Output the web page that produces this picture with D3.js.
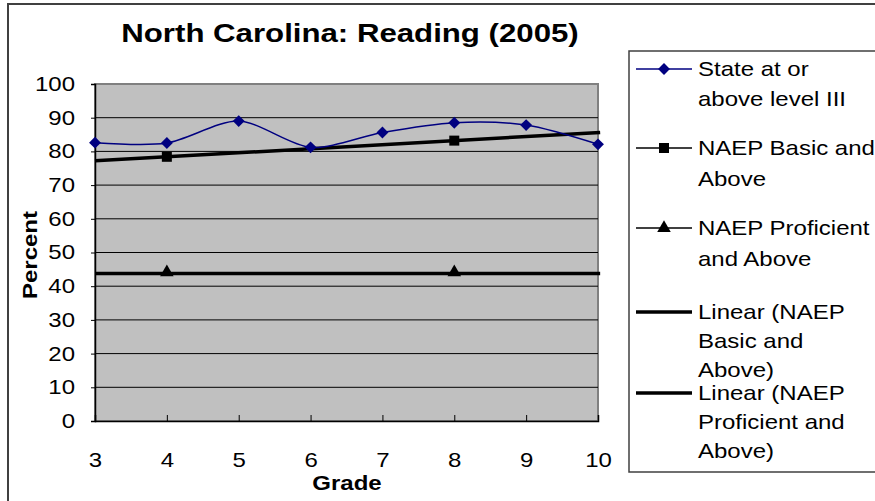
<!DOCTYPE html>
<html><head><meta charset="utf-8">
<script src="https://cdn.jsdelivr.net/npm/d3@7"></script>
<style>body{margin:0;background:#fff;} text{font-family:"Liberation Sans",Arial,sans-serif;}</style>
</head><body>
<svg id="c" width="875" height="501"></svg>
<script>
const title = "North Carolina: Reading (2005)";
const grades = [3, 4, 5, 6, 7, 8, 9, 10];
const stateValues = [82.6, 82.5, 89.0, 81.2, 85.6, 88.5, 87.8, 82.1];
const naepGrades = [4, 8];
const naepBasic = [78.4, 83.2];
const naepProficient = [43.8, 43.8];
const yTicks = [0, 10, 20, 30, 40, 50, 60, 70, 80, 90, 100];
const legendLabels = [
  ["State at or", "above level III"],
  ["NAEP Basic and", "Above"],
  ["NAEP Proficient", "and Above"],
  ["Linear (NAEP", "Basic and", "Above)"],
  ["Linear (NAEP", "Proficient and", "Above)"]
];

const SX = 1.2; // horizontal stretch of the original raster text
const svg = d3.select("#c");
const L = 95, R = 598, T = 84, B = 421;
const x = d3.scaleLinear().domain([3, 10]).range([L, R]);
const y = d3.scaleLinear().domain([0, 100]).range([B, T]);

function stext(px, py, str, size, bold, anchor, rot) {
  return svg.append("text")
    .attr("transform", `translate(${px},${py})${rot ? " rotate(" + rot + ")" : ""} scale(${SX},1)`)
    .attr("text-anchor", anchor || "start").attr("font-size", size)
    .attr("font-weight", bold ? "bold" : "normal").attr("fill", "#000").text(str);
}

// outer border
svg.append("path").attr("d", `M8,${501} V4 H875`).attr("fill", "none")
  .attr("stroke", "#404040").attr("stroke-width", 2);

// plot background
svg.append("rect").attr("x", L).attr("y", T).attr("width", R - L).attr("height", B - T)
  .attr("fill", "#c0c0c0").attr("stroke", "#808080").attr("stroke-width", 2);

// gridlines
svg.append("g").selectAll("line").data(yTicks.filter(d => d > 0 && d < 100)).join("line")
  .attr("x1", L).attr("x2", R).attr("y1", d => y(d)).attr("y2", d => y(d))
  .attr("stroke", "#000").attr("stroke-width", 1);

// y axis
const ya = svg.append("g").attr("transform", `translate(${L},0)`)
  .call(d3.axisLeft(y).tickValues(yTicks).tickSize(4).tickPadding(20));
ya.select(".domain").attr("stroke", "#000").attr("stroke-width", 1.5);
ya.selectAll("text").attr("x", -20 / SX).attr("transform", `scale(${SX},1)`)
  .attr("font-size", 20).attr("fill", "#000")
  .attr("font-family", "Liberation Sans, Arial, sans-serif");

// x axis
const xa = svg.append("g").attr("transform", `translate(0,${B})`)
  .call(d3.axisBottom(x).tickValues(grades).tickFormat(d3.format("d")).tickSize(-6).tickPadding(32));
xa.select(".domain").attr("stroke", "#000").attr("stroke-width", 1.5);
xa.selectAll("text").attr("transform", `scale(${SX},1)`)
  .attr("font-size", 20).attr("fill", "#000")
  .attr("font-family", "Liberation Sans, Arial, sans-serif");
xa.selectAll(".tick").each(function(d) {
  d3.select(this).select("text").attr("x", 0);
});

// trend lines (linear regression)
function fit(xs, ys) {
  const n = xs.length, mx = d3.mean(xs), my = d3.mean(ys);
  let sxy = 0, sxx = 0;
  for (let i = 0; i < n; i++) { sxy += (xs[i]-mx)*(ys[i]-my); sxx += (xs[i]-mx)**2; }
  const m = sxx ? sxy / sxx : 0;
  return xv => my + m * (xv - mx);
}
[naepBasic, naepProficient].forEach(vals => {
  const f = fit(naepGrades, vals);
  svg.append("line").attr("x1", x(3)).attr("x2", x(10.03))
    .attr("y1", y(f(3))).attr("y2", y(f(10.03)))
    .attr("stroke", "#000").attr("stroke-width", 3.5);
});

// state line
const navy = "#000080";
svg.append("path").datum(grades.map((g, i) => [g, stateValues[i]]))
  .attr("d", d3.line().x(d => x(d[0])).y(d => y(d[1])).curve(d3.curveCardinal.tension(0.15)))
  .attr("fill", "none").attr("stroke", navy).attr("stroke-width", 1.5);
const diamond = d3.symbol().type(d3.symbolDiamond2).size(90);
svg.append("g").selectAll("path").data(grades.map((g, i) => [g, stateValues[i]])).join("path")
  .attr("d", diamond).attr("transform", d => `translate(${x(d[0])},${y(d[1])})`).attr("fill", navy);

// NAEP markers
svg.append("g").selectAll("rect").data(naepGrades.map((g, i) => [g, naepBasic[i]])).join("rect")
  .attr("x", d => x(d[0]) - 5).attr("y", d => y(d[1]) - 5).attr("width", 10).attr("height", 10).attr("fill", "#000");
const tri = d3.symbol().type(d3.symbolTriangle).size(80);
svg.append("g").selectAll("path").data(naepGrades.map((g, i) => [g, naepProficient[i]])).join("path")
  .attr("d", tri).attr("transform", d => `translate(${x(d[0])},${y(d[1]) - 1})`).attr("fill", "#000");

// titles
stext(350, 42, title, 26, true, "middle");
stext(347, 490, "Grade", 20, true, "middle");
stext(37, 255, "Percent", 20, true, "middle", -90);

// legend
svg.append("path").attr("d", `M875,51 H629 V472 H875`).attr("fill", "none")
  .attr("stroke", "#404040").attr("stroke-width", 1.5);
const legY = [69, 148, 228, 312, 393];
const lineH = [30, 31, 31, 29, 29];
legendLabels.forEach((lines, i) => {
  const g = svg.append("g");
  const ly = legY[i];
  if (i === 0) {
    g.append("line").attr("x1", 636).attr("x2", 692).attr("y1", ly).attr("y2", ly).attr("stroke", navy).attr("stroke-width", 1.5);
    g.append("path").attr("d", diamond).attr("transform", `translate(664,${ly})`).attr("fill", navy);
  } else if (i < 3) {
    g.append("line").attr("x1", 636).attr("x2", 692).attr("y1", ly).attr("y2", ly).attr("stroke", "#000").attr("stroke-width", 1.5);
    if (i === 1) g.append("rect").attr("x", 659).attr("y", ly - 5).attr("width", 10).attr("height", 10).attr("fill", "#000");
    else g.append("path").attr("d", tri).attr("transform", `translate(664,${ly})`).attr("fill", "#000");
  } else {
    g.append("line").attr("x1", 636).attr("x2", 692).attr("y1", ly).attr("y2", ly).attr("stroke", "#000").attr("stroke-width", 3.5);
  }
  lines.forEach((t, j) => {
    stext(698, ly + 7 + j * lineH[i], t, 20, false, "start");
  });
});
</script>
</body></html>
